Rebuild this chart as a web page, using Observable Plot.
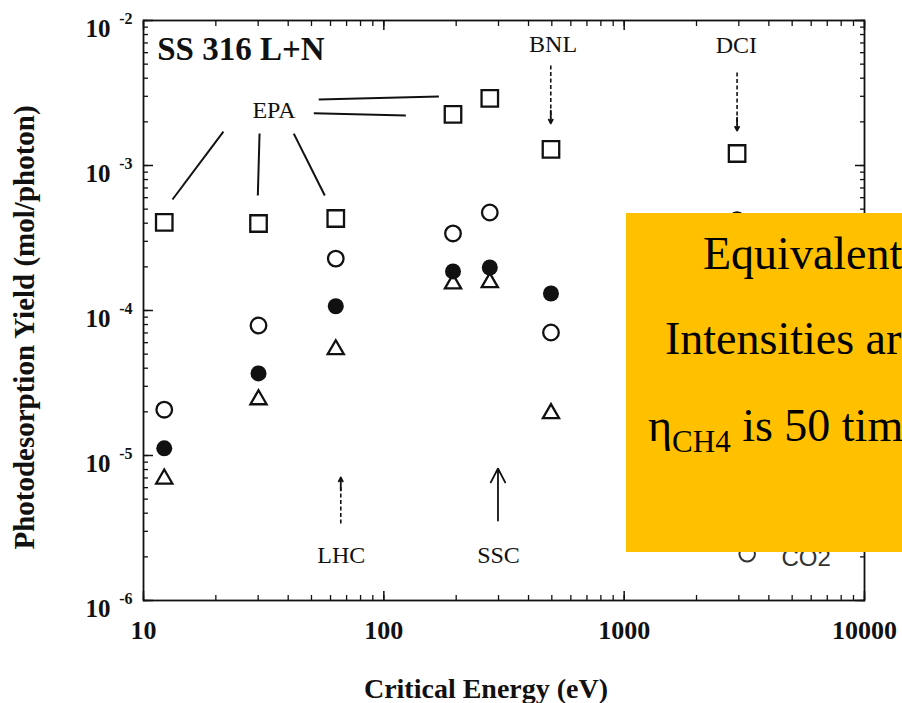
<!DOCTYPE html>
<html><head><meta charset="utf-8">
<script src="https://cdn.jsdelivr.net/npm/d3@7"></script>
<script src="https://cdn.jsdelivr.net/npm/@observablehq/plot@0.6"></script>
<style>
body{margin:0;background:#fff;}
#wrap{position:relative;width:902px;height:703px;overflow:hidden;}
#box{position:absolute;left:626px;top:213px;width:276px;height:339px;background:#FFC000;overflow:hidden;font-family:"Liberation Serif","Times New Roman",serif;font-size:46px;color:#000;}
#box div{position:absolute;white-space:nowrap;line-height:1;font-family:"Liberation Serif","Times New Roman",serif;}
</style></head><body><div id="wrap"><div id="chart"></div><div id="box">
<div style="left:77px;top:18px">Equivalent</div>
<div style="left:39px;top:103px">Intensities are</div>
<div style="left:22px;top:190px">η<span style="font-size:31px;position:relative;top:11px">CH4</span> is 50 times</div>
</div></div>
<script>
// Critical energy columns (eV)
const energies = [12.2, 30.1, 63.1, 194, 276, 496, 2950];
// Photodesorption yields (mol/photon) per marker type
const squares = [4.05e-4, 3.98e-4, 4.31e-4, 2.25e-3, 2.90e-3, 1.29e-3, 1.21e-3];
const openCircles = [2.07e-5, 7.88e-5, 2.28e-4, 3.40e-4, 4.74e-4, 7.05e-5, 4.2e-4];
const filledCircles = [1.12e-5, 3.68e-5, 1.07e-4, 1.86e-4, 1.98e-4, 1.31e-4, null];
const triangles = [6.9e-6, 2.43e-5, 5.38e-5, 1.53e-4, 1.56e-4, 1.95e-5, null];

// Axis ticks
const xMajor = [10, 100, 1000, 10000];
const yMajor = [1e-2, 1e-3, 1e-4, 1e-5, 1e-6];
const yExp = ["-2", "-3", "-4", "-5", "-6"];

// Annotations
const epaLeaders = [
  {x1: 21.5, y1: 1.71e-3, x2: 13.2, y2: 5.83e-4},
  {x1: 30.4, y1: 1.66e-3, x2: 29.9, y2: 6.21e-4},
  {x1: 42.2, y1: 1.66e-3, x2: 56.8, y2: 6.21e-4},
  {x1: 53.6, y1: 2.85e-3, x2: 169.5, y2: 2.99e-3},
  {x1: 51.1, y1: 2.29e-3, x2: 123.5, y2: 2.21e-3}
];
const dashedShafts = [
  {x: 495, y1: 4.9e-3, y2: 2.1e-3},
  {x: 2950, y1: 4.38e-3, y2: 1.9e-3},
  {x: 66.2, y1: 3.40e-6, y2: 6.2e-6}
];
const arrowHeads = [
  {x: 495, y1: 2.39e-3, y2: 1.95e-3},
  {x: 2950, y1: 2.14e-3, y2: 1.74e-3},
  {x: 66.2, y1: 5.74e-6, y2: 7.05e-6},
  {x: 298.5, y1: 3.56e-6, y2: 8.13e-6}
];
const labels = [
  {x: 506, y: 6.02e-3, t: "BNL"},
  {x: 2930, y: 5.93e-3, t: "DCI"},
  {x: 66.5, y: 1.80e-6, t: "LHC"},
  {x: 300, y: 1.80e-6, t: "SSC"}
];
const legendDot = [{x: 3250, y: 2.1e-6}];
const legendText = [{x: 4510, y: 1.74e-6, t: "CO2"}];

const idx = energies.map((e, i) => i);
const xMinor = d3.scaleLog().domain([10, 10000]).ticks();
const yMinor = d3.scaleLog().domain([1e-6, 1e-2]).ticks();
const ink = "#111";

const chart = Plot.plot({
  width: 902, height: 703,
  marginLeft: 143, marginRight: 38, marginTop: 20, marginBottom: 103,
  x: {type: "log", domain: [10, 10000], label: null},
  y: {type: "log", domain: [1e-6, 1e-2], label: null},
  style: {fontFamily: "Liberation Serif, serif", color: ink, background: "transparent", overflow: "visible"},
  marks: [
    Plot.frame({stroke: ink, strokeWidth: 1.8}),
    Plot.axisX(xMinor, {anchor: "bottom", tickSize: -5, tickFormat: () => "", label: null, strokeWidth: 1.3}),
    Plot.axisX(xMajor, {anchor: "bottom", tickSize: -9, tickFormat: () => "", label: null, strokeWidth: 1.5}),
    Plot.axisX(xMinor, {anchor: "top", tickSize: -5, tickFormat: () => "", label: null, strokeWidth: 1.3}),
    Plot.axisX(xMajor, {anchor: "top", tickSize: -9, tickFormat: () => "", label: null, strokeWidth: 1.5}),
    Plot.axisY(yMinor, {anchor: "left", tickSize: -5, tickFormat: () => "", label: null, strokeWidth: 1.3}),
    Plot.axisY(yMajor, {anchor: "left", tickSize: -10, tickFormat: () => "", label: null, strokeWidth: 1.5}),
    Plot.axisY(yMinor, {anchor: "right", tickSize: -5, tickFormat: () => "", label: null, strokeWidth: 1.3}),
    Plot.axisY(yMajor, {anchor: "right", tickSize: -10, tickFormat: () => "", label: null, strokeWidth: 1.5}),
    // tick labels
    Plot.text(xMajor, {x: d => d, frameAnchor: "bottom", dy: 38, lineAnchor: "bottom", textAnchor: "middle", text: d => String(d), fontSize: 26, fontWeight: "bold", fill: ink}),
    Plot.text(yMajor, {y: d => d, frameAnchor: "left", dx: -33, dy: 16, textAnchor: "end", lineAnchor: "bottom", text: () => "10", fontSize: 25, fontWeight: "bold", fill: ink}),
    Plot.text(yMajor, {y: d => d, frameAnchor: "left", dx: -11, dy: 3, textAnchor: "end", lineAnchor: "bottom", text: (d, i) => yExp[i], fontSize: 16, fontWeight: "bold", fill: ink}),
    // axis titles
    Plot.text(["Critical Energy (eV)"], {frameAnchor: "bottom", dx: -18, dy: 97, lineAnchor: "bottom", textAnchor: "middle", text: d => d, fontSize: 28, fontWeight: "bold", fill: ink}),
    Plot.text(["Photodesorption Yield (mol/photon)"], {frameAnchor: "left", dx: -110, dy: 17, rotate: -90, lineAnchor: "bottom", textAnchor: "middle", text: d => d, fontSize: 29, fontWeight: "bold", fill: ink}),
    // annotations
    Plot.text(["SS 316 L+N"], {x: 11.4, y: 5.3e-3, textAnchor: "start", lineAnchor: "bottom", text: d => d, fontSize: 33, fontWeight: "bold", fill: ink}),
    Plot.text(["EPA"], {x: 28.4, y: 2.14e-3, textAnchor: "start", lineAnchor: "bottom", text: d => d, fontSize: 24, fill: ink}),
    Plot.link(epaLeaders, {x1: "x1", y1: "y1", x2: "x2", y2: "y2", stroke: ink, strokeWidth: 2}),
    Plot.link(dashedShafts, {x1: "x", x2: "x", y1: "y1", y2: "y2", stroke: ink, strokeWidth: 1.6, strokeDasharray: "4,2.5"}),
    Plot.arrow(arrowHeads, {x1: "x", x2: "x", y1: "y1", y2: "y2", stroke: ink, strokeWidth: 1.8, headLength: 13, headAngle: 55}),
    Plot.text(labels, {x: "x", y: "y", text: "t", textAnchor: "middle", lineAnchor: "bottom", fontSize: 24, fill: ink}),
    // data markers
    Plot.dot(idx.filter(i => squares[i] != null), {x: i => energies[i], y: i => squares[i], symbol: "square", r: 9.3, stroke: ink, strokeWidth: 2.3, fill: "none"}),
    Plot.dot(idx.filter(i => openCircles[i] != null), {x: i => energies[i], y: i => openCircles[i], symbol: "circle", r: 7.8, stroke: ink, strokeWidth: 2.3, fill: "none"}),
    Plot.dot(idx.filter(i => filledCircles[i] != null), {x: i => energies[i], y: i => filledCircles[i], symbol: "circle", r: 8, fill: ink, stroke: "none"}),
    Plot.dot(idx.filter(i => triangles[i] != null), {x: i => energies[i], y: i => triangles[i], symbol: "triangle", r: 6, stroke: ink, strokeWidth: 2.3, fill: "none"}),
    // legend remnant
    Plot.dot(legendDot, {x: "x", y: "y", symbol: "circle", r: 7.8, stroke: "#333", strokeWidth: 2, fill: "none"}),
    Plot.text(legendText, {x: "x", y: "y", text: "t", textAnchor: "start", lineAnchor: "bottom", fontSize: 24, fontFamily: "Liberation Sans, sans-serif", fill: "#333"})
  ]
});
document.getElementById("chart").appendChild(chart);
</script>
</body></html>
